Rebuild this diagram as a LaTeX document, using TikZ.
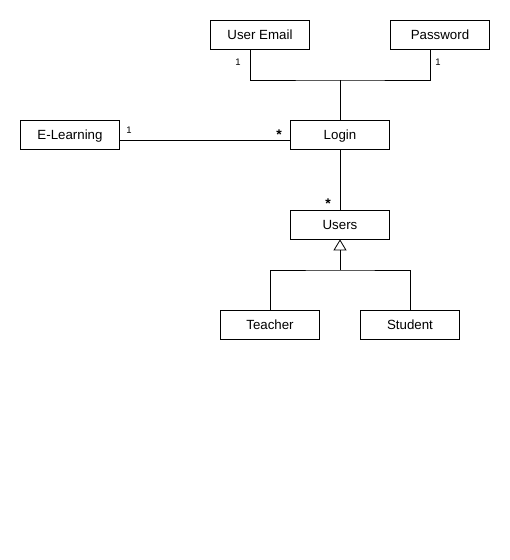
\documentclass[tikz,border=0pt]{standalone}
\usepackage{fontspec}
\setmainfont{Liberation Sans}
\usepackage{tikz}
\usetikzlibrary{calc,arrows.meta}

\tikzset{
  classbox/.style={draw, line width=0.8pt, minimum width=99pt, minimum height=29pt, inner sep=0pt, text height=10pt, text depth=1pt, font=\fontsize{13.3}{15}\selectfont},
  mult/.style={inner sep=0pt, font=\fontsize{9.5}{10}\selectfont},
  star/.style={inner sep=0pt, font=\fontsize{14}{16}\selectfont\bfseries}
}

\begin{document}
\begin{tikzpicture}[x=1pt, y=-1pt, line width=0.8pt]
	\useasboundingbox (0,0) rectangle (510,560);
	\node[classbox] (email) at (260,34.5) {User Email};
	\node[classbox] (pwd) at (440,34.5) {Password};
	\node[classbox] (elearn) at (70,134.5) {E-Learning};
	\node[classbox] (login) at (340,134.5) {Login};
	\node[classbox] (users) at (340,224.5) {Users};
	\node[classbox] (teacher) at (270,324.5) {Teacher};
	\node[classbox] (student) at (410,324.5) {Student};
	\coordinate (top) at (340,80); % joins email and password
	\coordinate (fork) at (340,270); % generalisation branch
	\draw ([xshift=-10pt]email.south) |- (top) -| ([xshift=-10pt]pwd.south);
	\draw (top) -- (login);
	\draw ([yshift=-5.5pt]elearn.east) -- ([yshift=-5.5pt]login.west);
	\draw (login) -- (users);
	\draw (teacher) |- (fork) -| (student);
	\draw[-{Triangle[open, length=11pt, width=13pt]}] (fork) -- (users); % inheritance
	\node[mult] at (238,62) {1};
	\node[mult] at (438,62) {1};
	\node[mult] at (129,130) {1};
	\node[star] at (279,135) {*};
	\node[star] at (328,204) {*};
\end{tikzpicture}
\end{document}
